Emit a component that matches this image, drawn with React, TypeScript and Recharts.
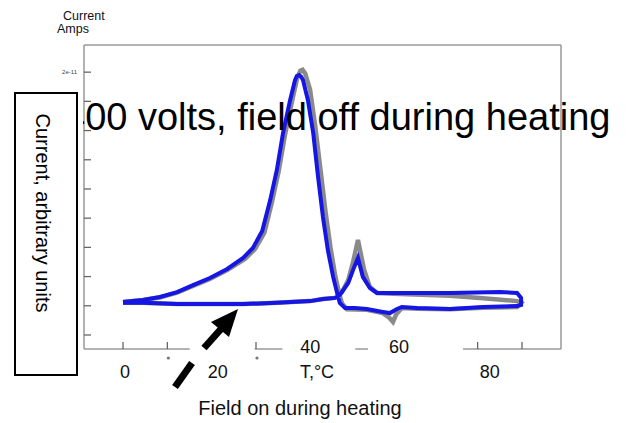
import { LineChart, Line, XAxis, YAxis, ReferenceLine } from 'recharts';

const FONT = '"Liberation Sans", Arial, sans-serif';

// axis ticks
const tempTicks = [0, 10, 20, 30, 40, 50, 60, 70, 80, 90];
const tempTickLabels = ['0', '', '20', '', '40', '', '60', '', '80', ''];
const currentTicks = [0, 1, 2, 3, 4, 5, 6, 7, 8, 9];
const currentTickLabels = ['', '', '', '', '', '', '', '', '', '2e-11'];

// blue run: heating up to 90 C, then cooling back (one closed loop)
const blueT = [
  0, 4.5, 8.3, 12.2, 15.8, 19.6, 23.5, 27.1, 29.3, 31.4,
  33.2, 34.7, 36.1, 37.7, 38.8, 39.2, 39.7, 40.2, 40.6, 41.7,
  42.9, 44.0, 45.1, 46.2, 47.4, 48.3, 48.9, 50.1, 52.3, 55.0,
  58.6, 60.2, 61.8, 62.9, 66.3, 73.8, 81.2, 88.9, 89.8, 89.8,
  88.9, 85.0, 73.8, 62.5, 57.3, 55.7, 54.1, 53.0, 51.9, 50.8,
  48.9, 47.8, 45.1, 42.2, 34.7, 27.1, 19.6, 12.2, 4.5, 0,
];
const blueI = [
  1.13, 1.2, 1.3, 1.47, 1.71, 1.95, 2.26, 2.64, 2.98, 3.56,
  4.62, 5.65, 6.92, 8.05, 8.73, 8.87, 8.9, 8.84, 8.73, 8.05,
  6.92, 5.41, 4.04, 2.91, 1.99, 1.44, 1.1, 0.92, 0.92, 0.89,
  0.79, 0.75, 0.89, 0.96, 0.92, 0.89, 0.96, 0.99, 1.03, 1.27,
  1.44, 1.47, 1.44, 1.44, 1.44, 1.61, 1.99, 2.64, 2.23, 1.78,
  1.37, 1.27, 1.23, 1.16, 1.1, 1.06, 1.06, 1.06, 1.1, 1.1,
];

// gray run
const grayT = [
  0, 4.5, 8.3, 12.2, 15.8, 19.6, 23.5, 27.5, 29.8, 31.9,
  33.6, 35.1, 36.6, 38.2, 39.3, 40.0, 40.5, 41.1, 42.2, 43.4,
  44.6, 45.7, 46.8, 47.9, 48.8, 49.4, 50.5, 55.0, 58.6, 60.0,
  60.9, 61.6, 62.9, 66.3, 73.8, 81.2, 88.9, 89.8, 88.9, 80.5,
  73.8, 62.5, 57.3, 55.7, 54.4, 53.0, 51.9, 50.8, 49.4, 47.8,
  45.1, 42.2, 34.7, 27.1, 19.6, 12.2, 4.5, 0,
];
const grayI = [
  1.13, 1.2, 1.28, 1.45, 1.68, 1.92, 2.22, 2.6, 2.95, 3.5,
  4.55, 5.6, 6.9, 8.05, 8.8, 9.05, 9.08, 8.95, 8.4, 7.1,
  5.6, 4.2, 3.0, 2.0, 1.4, 1.08, 0.88, 0.86, 0.75, 0.6,
  0.45, 0.7, 0.92, 0.9, 0.88, 0.93, 0.96, 1.1, 1.16, 1.27,
  1.34, 1.4, 1.44, 1.64, 2.23, 3.25, 2.5, 1.88, 1.47, 1.27,
  1.23, 1.16, 1.1, 1.06, 1.06, 1.06, 1.1, 1.1,
];

const blueData = blueT.map((t, i) => ({ t, i: blueI[i] }));
const grayData = grayT.map((t, i) => ({ t, i: grayI[i] }));

const X_DOMAIN: [number, number] = [-8.8, 98.8];
const Y_DOMAIN: [number, number] = [-0.48, 9.93];

// how each x tick is drawn (the labels in the source are pasted on, off their ticks)
const xTickLayout: Record<number, { mark: boolean; dx?: number; dy?: number; gap?: [number, number]; dot?: boolean }> = {
  0: { mark: true, dx: 2, dy: 29 },
  10: { mark: true, dot: true },
  20: { mark: false, dx: 6, dy: 29, gap: [-22, 43] },
  30: { mark: true, dot: true },
  40: { mark: false, dx: 10, dy: 4, gap: [-18, 55] },
  50: { mark: false },
  60: { mark: false, dx: 10, dy: 4, gap: [-21, 74] },
  70: { mark: false },
  80: { mark: true, dx: 12, dy: 29 },
  90: { mark: true },
};

function TempTick(props: any) {
  const { x, y, payload } = props;
  const v = payload.value;
  const lay = xTickLayout[v] || { mark: true };
  const label = tempTickLabels[tempTicks.indexOf(v)];
  return (
    <g>
      {lay.gap && (
        <rect x={x + lay.gap[0]} y={y - 5} width={lay.gap[1] - lay.gap[0]} height={11} fill="#fff" />
      )}
      {lay.mark && <line x1={x} x2={x} y1={y} y2={y - 7} stroke="#666" strokeWidth={1.3} />}
      {lay.dot && <circle cx={x + 1} cy={y + 9} r={1.6} fill="#777" />}
      {label && (
        <text x={x + (lay.dx || 0)} y={y + (lay.dy || 0)} textAnchor="middle" fontSize={18} fontFamily={FONT} fill="#111">
          {label}
        </text>
      )}
    </g>
  );
}

function CurrentTick(props: any) {
  const { x, y, payload } = props;
  const label = currentTickLabels[currentTicks.indexOf(payload.value)];
  return (
    <g>
      <line x1={x} x2={x + 7} y1={y} y2={y} stroke="#666" strokeWidth={1.3} />
      {label && (
        <text x={x - 7} y={y + 2} textAnchor="end" fontSize={6} fontFamily={FONT} fill="#444">
          {label}
        </text>
      )}
    </g>
  );
}

export default function App() {
  return (
    <div style={{ position: 'absolute', left: 0, top: 0, width: 628, height: 423, background: '#fff' }}>
      <LineChart width={628} height={423} margin={{ top: 45, right: 67, bottom: 44, left: 64 }}>
        <XAxis
          dataKey="t"
          type="number"
          domain={X_DOMAIN}
          ticks={tempTicks}
          allowDataOverflow
          height={30}
          tickSize={0}
          tickMargin={0}
          tickLine={false}
          axisLine={{ stroke: '#999', strokeWidth: 1.5 }}
          tick={<TempTick />}
        />
        <YAxis
          type="number"
          domain={Y_DOMAIN}
          ticks={currentTicks}
          allowDataOverflow
          width={20}
          tickSize={0}
          tickMargin={0}
          tickLine={false}
          axisLine={{ stroke: '#999', strokeWidth: 1.5 }}
          tick={<CurrentTick />}
        />
        <ReferenceLine y={Y_DOMAIN[1]} stroke="#999" strokeWidth={1.5} />
        <ReferenceLine x={X_DOMAIN[1]} stroke="#999" strokeWidth={1.5} />
        <Line
          data={grayData}
          dataKey="i"
          type="linear"
          stroke="#8a8a8a"
          strokeWidth={4.5}
          dot={false}
          isAnimationActive={false}
        />
        <Line
          data={blueData}
          dataKey="i"
          type="linear"
          stroke="#1616e4"
          strokeWidth={4}
          dot={false}
          isAnimationActive={false}
        />
      </LineChart>

      {/* pasted-on annotations */}
      <svg
        width={628}
        height={423}
        style={{ position: 'absolute', left: 0, top: 0, pointerEvents: 'none' }}
        fontFamily={FONT}
      >
        <text x={63} y={20} fontSize={12.5} fill="#111">Current</text>
        <text x={57} y={33} fontSize={12.5} fill="#111">Amps</text>

        <text x={64} y={130} fontSize={38} fill="#000">400 volts, field off during heating</text>

        <rect x={77} y={95} width={6} height={40} fill="#fff" />
        <rect x={15} y={93} width={62} height={282} fill="#fff" stroke="#000" strokeWidth={2} />
        <text x={36} y={213} fontSize={20} fill="#000" textAnchor="middle" transform="rotate(90 36 213)">
          Current, arbitrary units
        </text>

        <text x={317} y={378} fontSize={18} fill="#111" textAnchor="middle">T,°C</text>
        <text x={300} y={415} fontSize={20} fill="#111" textAnchor="middle">Field on during heating</text>

        <polygon points="238,309 211,322 229,337" fill="#000" />
        <line x1={221} y1={329} x2={204} y2={348} stroke="#000" strokeWidth={7} />
        <line x1={192} y1={363} x2={175} y2={387} stroke="#000" strokeWidth={7} />
      </svg>
    </div>
  );
}
